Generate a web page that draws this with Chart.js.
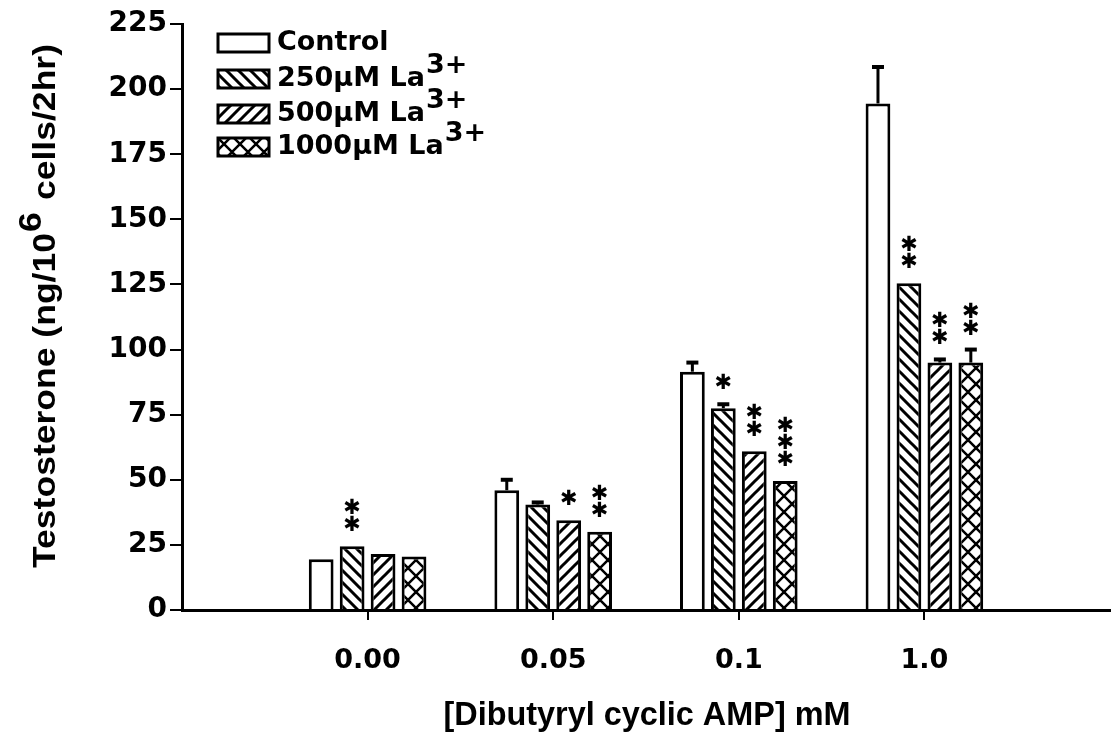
<!DOCTYPE html>
<html>
<head>
<meta charset="utf-8">
<script src="https://cdn.jsdelivr.net/npm/chart.js@4"></script>
<style>
  html, body { margin: 0; padding: 0; overflow: hidden; background: #fff; }
  canvas { display: block; }
</style>
</head>
<body>
<canvas id="myChart" width="1113" height="741"></canvas>
<script>
// data
const categories = ['', '0.00', '0.05', '0.1', '1.0', ''];
const seriesNames = ['Control', '250\u03bcM La', '500\u03bcM La', '1000\u03bcM La'];
const control = [null, 19.5, 46, 91.5, 194.5, null];
const la250 = [null, 24.5, 40.5, 77.5, 125.5, null];
const la500 = [null, 21.5, 34.5, 61, 95, null];
const la1000 = [null, 20.5, 30, 49.5, 95, null];
const errControl = [0, 0, 4, 3.5, 14, 0];
const err250 = [0, 0, 0.8, 1.5, 0, 0];
const err500 = [0, 0, 0, 0, 1.2, 0];
const err1000 = [0, 0, 0, 0, 5, 0];
const starsControl = [0, 0, 0, 0, 0, 0];
const stars250 = [0, 2, 0, 1, 2, 0];
const stars500 = [0, 0, 1, 2, 2, 0];
const stars1000 = [0, 0, 2, 3, 2, 0];
const yTicks = [0, 25, 50, 75, 100, 125, 150, 175, 200, 225];

const FONT = '"DejaVu Sans", "Liberation Sans", sans-serif';
const NARROW = '"Liberation Sans", Arial, sans-serif';

function makePattern(kind) {
    const s = kind === 'cross' ? 16 : 12;
    const c = document.createElement('canvas');
    c.width = s; c.height = s;
    const g = c.getContext('2d');
    g.fillStyle = '#fff';
    g.fillRect(0, 0, s, s);
    g.strokeStyle = '#000';
    g.lineWidth = kind === 'cross' ? 2.5 : 3;
    g.beginPath();
    if (kind === 'back' || kind === 'cross') {
        g.moveTo(-s, 0); g.lineTo(s * 2, s * 3);
        g.moveTo(-s, -s); g.lineTo(s * 2, s * 2);
        g.moveTo(0, -s); g.lineTo(s * 2, s);
    }
    if (kind === 'fwd' || kind === 'cross') {
        g.moveTo(-s, s); g.lineTo(s, -s);
        g.moveTo(-s, s * 2); g.lineTo(s * 2, -s);
        g.moveTo(0, s * 2); g.lineTo(s * 2, 0);
    }
    g.stroke();
    return g.createPattern(c, 'repeat');
}

const fills = ['#ffffff', makePattern('back'), makePattern('fwd'), makePattern('cross')];
const errs = [errControl, err250, err500, err1000];
const stars = [starsControl, stars250, stars500, stars1000];

// draw text stretched to a given length (the figure uses a tall, narrow face)
function fitText(ctx, parts, cx, cy, len) {
    let total = 0;
    parts.forEach(p => { p.w = ctx.measureText(p.t).width; total += p.w + (p.gap || 0); });
    const k = len / total;
    ctx.save();
    ctx.translate(cx, cy);
    ctx.scale(k, 1);
    let x = -total / 2;
    parts.forEach(p => {
        ctx.fillText(p.t, x, p.dy || 0);
        x += p.w + (p.gap || 0);
    });
    ctx.restore();
}

const extras = {
    id: 'extras',
    afterDatasetsDraw(chart) {
        const ctx = chart.ctx;
        const y = chart.scales.y;
        ctx.save();
        chart.data.datasets.forEach((ds, di) => {
            const meta = chart.getDatasetMeta(di);
            meta.data.forEach((bar, i) => {
                const v = ds.data[i];
                if (v === null) return;
                let top = bar.y;
                const e = errs[di][i];
                if (e > 0) {
                    const ey = y.getPixelForValue(v + e);
                    ctx.strokeStyle = '#000';
                    ctx.lineWidth = 3;
                    ctx.beginPath();
                    ctx.moveTo(bar.x, bar.y);
                    ctx.lineTo(bar.x, ey);
                    ctx.stroke();
                    ctx.lineWidth = 4;
                    ctx.beginPath();
                    ctx.moveTo(bar.x - 6, ey);
                    ctx.lineTo(bar.x + 6, ey);
                    ctx.stroke();
                    top = ey;
                }
                const n = stars[di][i];
                if (n > 0) {
                    ctx.font = 'bold 21px ' + FONT;
                    ctx.fillStyle = '#000';
                    ctx.textAlign = 'center';
                    ctx.textBaseline = 'alphabetic';
                    const m = ctx.measureText('\u2731');
                    const off = (m.actualBoundingBoxAscent - m.actualBoundingBoxDescent) / 2;
                    for (let k = 0; k < n; k++) {
                        const cy = top - 23 - k * 17;
                        ctx.fillText('\u2731', bar.x, cy + off);
                    }
                }
            });
        });
        ctx.restore();
    },
    afterDraw(chart) {
        const ctx = chart.ctx;
        ctx.save();
        // legend
        ctx.textAlign = 'left';
        ctx.textBaseline = 'middle';
        const rows = [43, 79, 114, 147];
        seriesNames.forEach((name, i) => {
            const cy = rows[i];
            ctx.fillStyle = fills[i];
            ctx.fillRect(218, cy - 9, 51, 18);
            ctx.strokeStyle = '#000';
            ctx.lineWidth = 3;
            ctx.strokeRect(218, cy - 9, 51, 18);
            ctx.fillStyle = '#000';
            ctx.font = 'bold 27px ' + FONT;
            ctx.fillText(name, 277, cy);
            if (i > 0) {
                const w = ctx.measureText(name).width;
                ctx.fillText('3+', 277 + w + 1, cy - 13);
            }
        });
        // x title
        ctx.fillStyle = '#000';
        ctx.textAlign = 'left';
        ctx.textBaseline = 'middle';
        ctx.font = 'bold 34px ' + NARROW;
        fitText(ctx, [{ t: '[Dibutyryl cyclic AMP] mM' }], 647, 716, 407);
        // y title with superscript
        ctx.save();
        ctx.translate(46, 306);
        ctx.rotate(-Math.PI / 2);
        ctx.font = 'bold 32px ' + NARROW;
        fitText(ctx, [
            { t: 'Testosterone (ng/10', gap: 1 },
            { t: '6', dy: -14, gap: 2 },
            { t: ' cells/2hr)' }
        ], 0, 0, 524);
        ctx.restore();
        ctx.restore();
    }
};

const datasets = [control, la250, la500, la1000].map((d, i) => ({
    label: seriesNames[i],
    data: d,
    backgroundColor: fills[i],
    borderColor: '#000',
    borderWidth: 3,
    categoryPercentage: 0.667,
    barPercentage: 0.8
}));

const config = {
    type: 'bar',
    data: { labels: categories, datasets: datasets },
    options: {
        responsive: false,
        animation: false,
        layout: { autoPadding: false, padding: { top: 24, right: 3, left: 0, bottom: 0 } },
        plugins: {
            legend: { display: false },
            tooltip: { enabled: false }
        },
        scales: {
            x: {
                offset: false,
                grid: {
                    offset: false,
                    drawOnChartArea: false,
                    tickLength: 10,
                    lineWidth: 2,
                    color: (c) => (c.index === 0 || c.index === categories.length - 1) ? 'rgba(0,0,0,0)' : '#000'
                },
                border: { color: '#000', width: 3 },
                ticks: {
                    color: '#000',
                    padding: 0,
                    maxRotation: 0,
                    autoSkip: false,
                    font: { family: FONT, size: 27, weight: 'bold', lineHeight: 3 }
                },
                afterFit: (s) => { s.height = 131; }
            },
            y: {
                min: 0,
                max: 225,
                afterBuildTicks: (s) => { s.ticks = yTicks.map(v => ({ value: v })); },
                grid: {
                    drawOnChartArea: false,
                    tickLength: 12,
                    lineWidth: 2,
                    color: '#000'
                },
                border: { color: '#000', width: 3 },
                ticks: {
                    color: '#000',
                    padding: 3,
                    font: { family: FONT, size: 28, weight: 'bold' }
                },
                afterFit: (s) => { s.width = 182; }
            }
        }
    },
    plugins: [extras]
};

const myChart = new Chart(document.getElementById('myChart'), config);
</script>
</body>
</html>
